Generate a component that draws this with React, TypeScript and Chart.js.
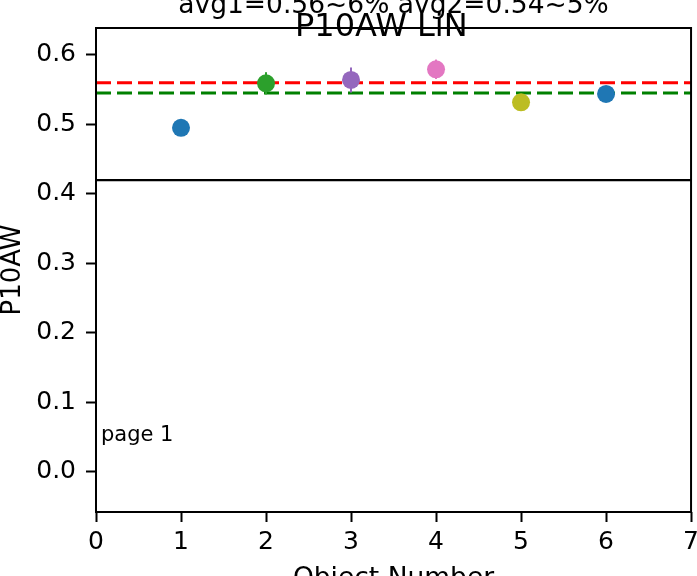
import React, { useEffect, useRef } from 'react';
import { Chart, registerables } from 'chart.js';

Chart.register(...registerables);

// ---- data ----
const objectNumbers = [1, 2, 3, 4, 5, 6];
const p10awValues = [0.4947, 0.5588, 0.5636, 0.579, 0.5315, 0.5435];
const p10awErrors = [0.008, 0.016, 0.018, 0.014, 0.006, 0.006];
const pointColors = ['#1f77b4', '#2ca02c', '#9467bd', '#e377c2', '#bcbd22', '#1f77b4'];
const avg1Value = 0.5597;
const avg2Value = 0.5447;
const separatorValue = 0.4195;
const xRange = [0, 7];
const yRange = [-0.058, 0.6384];
const xTickValues = [0, 1, 2, 3, 4, 5, 6, 7];
const yTickValues = [0.0, 0.1, 0.2, 0.3, 0.4, 0.5, 0.6];
const titleText = 'P10AW LiN';
const avgText = 'avg1=0.56~6% avg2=0.54~5%';
const xLabel = 'Object Number';
const yLabel = 'P10AW';
const pageText = 'page 1';

const FONT = "'DejaVu Sans', sans-serif";
const CANVAS_W = 704;
const CANVAS_H = 576;

export default function App() {
  const canvasRef = useRef<HTMLCanvasElement | null>(null);

  useEffect(() => {
    const canvas = canvasRef.current;
    if (!canvas) return;

    const errorBarPlugin = {
      id: 'errorBars',
      beforeDatasetDraw(chart: any, args: any) {
        if (args.index !== 0) return;
        const { ctx, scales } = chart;
        const xs = scales.x;
        const ys = scales.y;
        ctx.save();
        ctx.lineWidth = 2;
        objectNumbers.forEach((xv, i) => {
          const px = xs.getPixelForValue(xv);
          const top = ys.getPixelForValue(p10awValues[i] + p10awErrors[i]);
          const bot = ys.getPixelForValue(p10awValues[i] - p10awErrors[i]);
          ctx.strokeStyle = pointColors[i];
          ctx.beginPath();
          ctx.moveTo(px, top);
          ctx.lineTo(px, bot);
          ctx.stroke();
        });
        ctx.restore();
      },
    };

    const decorPlugin = {
      id: 'decor',
      afterDraw(chart: any) {
        const { ctx, chartArea } = chart;
        const { left, right, top, bottom } = chartArea;
        ctx.save();
        // frame
        ctx.strokeStyle = '#000';
        ctx.lineWidth = 2;
        ctx.strokeRect(left, top, right - left, bottom - top);
        ctx.fillStyle = '#000';
        const cx = (left + right) / 2;
        // avg text (cut at top)
        ctx.font = `26.5px ${FONT}`;
        ctx.textAlign = 'center';
        ctx.textBaseline = 'alphabetic';
        ctx.fillText(avgText, cx, 13);
        // title
        ctx.font = `32px ${FONT}`;
        ctx.textAlign = 'left';
        ctx.fillText(titleText, 295, 36);
        // page text
        ctx.font = `21px ${FONT}`;
        ctx.textAlign = 'left';
        ctx.fillText(pageText, 101, 441);
        // x label (cut at bottom)
        ctx.font = `26.5px ${FONT}`;
        ctx.textAlign = 'center';
        ctx.fillText(xLabel, cx, 586);
        // y label
        ctx.save();
        ctx.translate(20, (top + bottom) / 2);
        ctx.rotate(-Math.PI / 2);
        ctx.font = `26px ${FONT}`;
        ctx.textAlign = 'center';
        ctx.fillText(yLabel, 0, 0);
        ctx.restore();
        ctx.restore();
      },
    };

    const chart = new Chart(canvas, {
      type: 'scatter',
      data: {
        datasets: [
          {
            label: 'P10AW',
            data: objectNumbers.map((x, i) => ({ x, y: p10awValues[i] })),
            pointBackgroundColor: pointColors,
            pointBorderWidth: 0,
            pointRadius: 9,
            showLine: false,
            order: 0,
          },
          {
            label: 'avg1',
            type: 'line',
            data: [
              { x: xRange[0], y: avg1Value },
              { x: xRange[1], y: avg1Value },
            ],
            borderColor: '#ff0000',
            borderWidth: 3,
            borderDash: [15, 6],
            pointRadius: 0,
            order: 1,
          },
          {
            label: 'avg2',
            type: 'line',
            data: [
              { x: xRange[0], y: avg2Value },
              { x: xRange[1], y: avg2Value },
            ],
            borderColor: '#008000',
            borderWidth: 3,
            borderDash: [15, 6],
            pointRadius: 0,
            order: 2,
          },
          {
            label: 'separator',
            type: 'line',
            data: [
              { x: xRange[0], y: separatorValue },
              { x: xRange[1], y: separatorValue },
            ],
            borderColor: '#000000',
            borderWidth: 2.2,
            pointRadius: 0,
            order: 3,
          },
        ],
      } as any,
      options: {
        responsive: false,
        animation: false,
        devicePixelRatio: 1,
        layout: { padding: { top: 28, right: 0, left: 0, bottom: 0 } },
        plugins: {
          legend: { display: false },
          tooltip: { enabled: false },
          title: { display: false },
        },
        scales: {
          x: {
            type: 'linear',
            min: xRange[0],
            max: xRange[1],
            afterBuildTicks: (scale: any) => {
              scale.ticks = xTickValues.map((v) => ({ value: v }));
            },
            afterFit: (scale: any) => {
              scale.height = 64;
            },
            ticks: {
              autoSkip: false,
              maxRotation: 0,
              padding: 5,
              color: '#000',
              font: { family: FONT, size: 25 },
              callback: (v: any) => String(v),
            },
            grid: {
              display: true,
              drawOnChartArea: false,
              drawTicks: true,
              tickLength: 10,
              tickColor: '#000',
              tickWidth: 2,
              color: '#000',
            },
            border: { display: false },
          },
          y: {
            type: 'linear',
            min: yRange[0],
            max: yRange[1],
            afterBuildTicks: (scale: any) => {
              scale.ticks = yTickValues.map((v) => ({ value: v }));
            },
            afterFit: (scale: any) => {
              scale.width = 96;
            },
            ticks: {
              autoSkip: false,
              padding: 10,
              color: '#000',
              font: { family: FONT, size: 25 },
              callback: (v: any) => Number(v).toFixed(1),
            },
            grid: {
              display: true,
              drawOnChartArea: false,
              drawTicks: true,
              tickLength: 10,
              tickColor: '#000',
              tickWidth: 2,
              color: '#000',
            },
            border: { display: false },
          },
        },
      } as any,
      plugins: [errorBarPlugin, decorPlugin],
    });

    return () => {
      chart.destroy();
    };
  }, []);

  return (
    <div
      style={{
        position: 'fixed',
        left: 0,
        top: 0,
        width: 697,
        height: 576,
        overflow: 'hidden',
        background: '#fff',
      }}
    >
      <canvas ref={canvasRef} width={CANVAS_W} height={CANVAS_H} style={{ display: 'block' }} />
    </div>
  );
}
